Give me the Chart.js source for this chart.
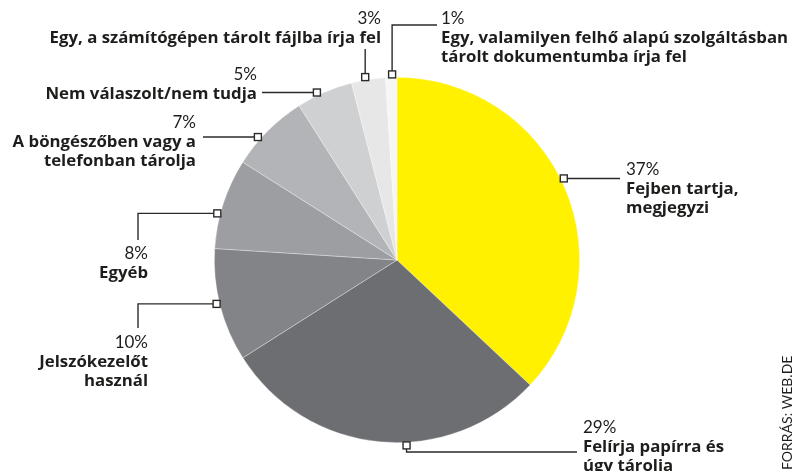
<!DOCTYPE html>
<html>
<head>
<meta charset="utf-8">
<script src="https://cdn.jsdelivr.net/npm/chart.js@4/dist/chart.umd.min.js"></script>
<style>
  body { margin: 0; background: #fff; }
  canvas { display: block; }
</style>
</head>
<body>
<canvas id="chart" width="793" height="471"></canvas>
<script>
// answer shares in percent, clockwise from 12 o'clock
const shares = [37, 29, 10, 8, 7, 5, 3, 1];
const answers = [
    ["Fejben tartja,", "megjegyzi"],
    ["Felírja papírra és", "úgy tárolja"],
    ["Jelszókezelőt", "használ"],
    ["Egyéb"],
    ["A böngészőben vagy a", "telefonban tárolja"],
    ["Nem válaszolt/nem tudja"],
    ["Egy, a számítógépen tárolt fájlba írja fel"],
    ["Egy, valamilyen felhő alapú szolgáltásban", "tárolt dokumentumba írja fel"]
];
const colors = ["#fff100", "#6d6e72", "#838488", "#9d9ea1", "#b3b4b7", "#cfd0d2", "#e7e7e8", "#f6f6f6"];
const source = "FORRÁS: WEB.DE";

// where each leader line leaves its slice (t = fraction along the arc) and where its text sits
const callouts = [
    { t: 0.48, path: [["h", 620]], x: 626, y: 170, align: "left" },
    { t: 0.42, path: [["v", 452], ["h", 577]], x: 583, y: 428, align: "left" },
    { t: 0.52, path: [["h", 138], ["v", 328]], x: 148, y: 343, align: "right" },
    { t: 0.38, path: [["h", 138], ["v", 240]], x: 148, y: 254, align: "right" },
    { t: 0.36, path: [["h", 203]], x: 196, y: 123, align: "right" },
    { t: 0.38, path: [["h", 262]], x: 257, y: 75, align: "right" },
    { t: 0.42, path: [["v", 49]], x: 381, y: 19, align: "right" },
    { t: 0.58, path: [["v", 25], ["h", 437]], x: 441, y: 19, align: "left" }
];

const PCT_FONT = "400 17px Lato, sans-serif";
const LABEL_FONT = "700 16.8px 'Open Sans', sans-serif";
const INK = "#1d1d1b";
const LINE_H = 19;

const calloutPlugin = {
    id: "callouts",
    afterDraw(chart) {
        const ctx = chart.ctx;
        const arcs = chart.getDatasetMeta(0).data;
        ctx.save();
        arcs.forEach((arc, i) => {
            const c = callouts[i];
            const p = arc.getProps(["x", "y", "startAngle", "endAngle", "outerRadius"], true);
            const a = p.startAngle + c.t * (p.endAngle - p.startAngle);
            const r = p.outerRadius + 3;
            const mx = p.x + Math.cos(a) * r;
            const my = p.y + Math.sin(a) * r;

            // leader line
            ctx.strokeStyle = "#2b2b2b";
            ctx.lineWidth = 1.4;
            ctx.beginPath();
            ctx.moveTo(mx, my);
            let cx = mx, cy = my;
            c.path.forEach(([dir, v]) => {
                if (dir === "h") cx = v; else cy = v;
                ctx.lineTo(cx, cy);
            });
            ctx.stroke();

            // little square at the slice
            ctx.fillStyle = "#fff";
            ctx.fillRect(mx - 3.5, my - 3.5, 7, 7);
            ctx.strokeRect(mx - 3.5, my - 3.5, 7, 7);

            // percent + answer text
            ctx.fillStyle = INK;
            ctx.textAlign = c.align;
            ctx.textBaseline = "middle";
            ctx.font = PCT_FONT;
            ctx.fillText(`${shares[i]}%`, c.x, c.y);
            ctx.font = LABEL_FONT;
            answers[i].forEach((line, k) => {
                ctx.fillText(line, c.x, c.y + LINE_H * (k + 1));
            });
        });

        // source, running up the right edge
        ctx.translate(787, 470);
        ctx.rotate(-Math.PI / 2);
        ctx.font = "400 14px Lato, sans-serif";
        ctx.fillStyle = INK;
        ctx.textAlign = "left";
        ctx.textBaseline = "middle";
        ctx.fillText(source, 0, 0);
        ctx.restore();
    }
};

new Chart(document.getElementById("chart"), {
    type: "pie",
    data: {
        labels: answers.map((a) => a.join(" ")),
        datasets: [{
            data: shares,
            backgroundColor: colors,
            borderColor: "rgba(255, 255, 255, 0.45)",
            borderWidth: 0.7
        }]
    },
    options: {
        responsive: false,
        animation: false,
        layout: {
            padding: { top: 77, bottom: 28, left: 214, right: 213 }
        },
        plugins: {
            legend: { display: false },
            tooltip: { enabled: false }
        }
    },
    plugins: [calloutPlugin]
});
</script>
</body>
</html>
